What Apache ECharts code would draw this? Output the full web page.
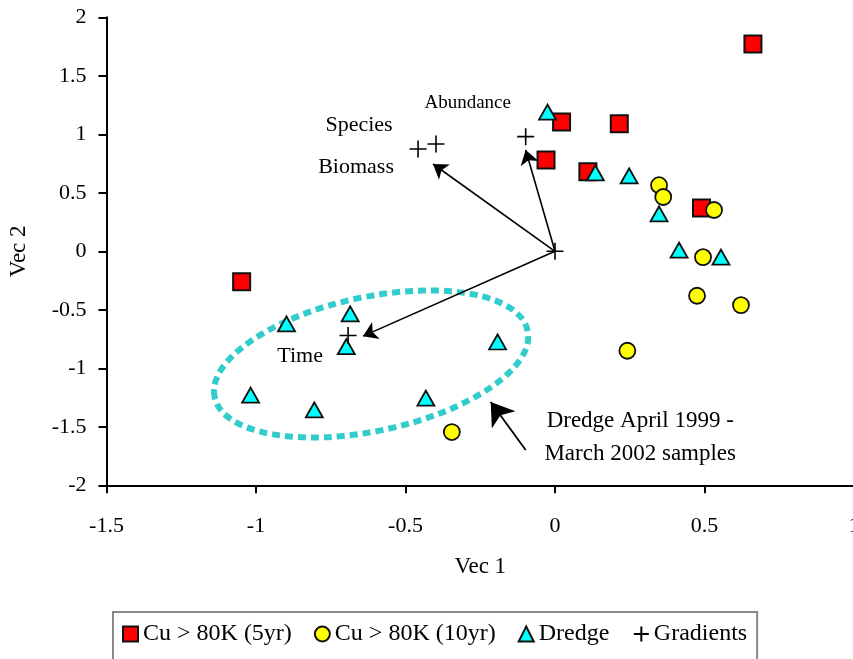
<!DOCTYPE html>
<html>
<head>
<meta charset="utf-8">
<script src="https://cdn.jsdelivr.net/npm/echarts@6/dist/echarts.min.js"></script>
<style>
html, body { margin: 0; padding: 0; background: #fff; }
#chart { width: 853px; height: 659px; }
</style>
</head>
<body>
<div id="chart"></div>
<script>
// values
const cu5yr = [[0.662, 1.772], [0.022, 1.105], [0.215, 1.09], [-0.03, 0.78], [0.11, 0.68], [0.49, 0.37], [-1.048, -0.26]];
const cu10yr = [[0.348, 0.565], [0.362, 0.464], [0.532, 0.353], [0.495, -0.05], [0.475, -0.38], [0.622, -0.46], [0.242, -0.85], [-0.345, -1.545]];
const dredge = [[-0.025, 1.19], [0.135, 0.67], [0.248, 0.645], [0.348, 0.32], [0.415, 0.01], [0.555, -0.05],
  [-0.898, -0.62], [-0.685, -0.535], [-0.698, -0.815], [-0.192, -0.775], [-1.018, -1.23], [-0.805, -1.355], [-0.432, -1.255]];
const gradientNames = ['', 'Abundance', 'Species', 'Biomass', 'Time'];
const gradientPoints = [[0, 0], [-0.098, 0.98], [-0.398, 0.917], [-0.458, 0.874], [-0.692, -0.72]];
const arrowTips = [[-0.098, 0.865], [-0.408, 0.746], [-0.642, -0.725]];
const noteLines = ['Dredge April 1999 -', 'March 2002 samples'];
const noteAt = [0.285, -1.587];
const noteArrow = [[-0.098, -1.698], [-0.215, -1.288]];
const ellipseAt = [-0.615, -0.963];

const FONT = 'Liberation Serif';
const labelOffsets = {
  'Abundance': { offset: [-58, -34], fontSize: 19 },
  'Species': { offset: [-77, -19], fontSize: 22 },
  'Biomass': { offset: [-62, 18], fontSize: 22 },
  'Time': { offset: [-48, 21], fontSize: 22 }
};

const chart = echarts.init(document.getElementById('chart'));

const axisCommon = {
  axisLine: { onZero: false, lineStyle: { color: '#000', width: 2 } },
  axisTick: { length: 8, lineStyle: { color: '#000', width: 2 } },
  axisLabel: { color: '#000', fontFamily: FONT, fontSize: 22 },
  splitLine: { show: false },
  nameTextStyle: { color: '#000', fontFamily: FONT, fontSize: 23 },
  nameLocation: 'middle'
};

const plus = 'path://M0 10H20M10 0V20';

chart.setOption({
  animation: false,
  grid: { left: 106.5, top: 17.3, right: -1, bottom: 173.7, outerBoundsMode: 'none' },
  xAxis: Object.assign({}, axisCommon, {
    type: 'value', min: -1.5, max: 1, interval: 0.5, name: 'Vec 1', nameGap: 70,
    axisLabel: Object.assign({}, axisCommon.axisLabel, { margin: 30 })
  }),
  yAxis: Object.assign({}, axisCommon, {
    type: 'value', min: -2, max: 2, interval: 0.5, name: 'Vec 2', nameGap: 76,
    axisLabel: Object.assign({}, axisCommon.axisLabel, { margin: 20 })
  }),
  legend: {
    data: ['Cu > 80K (5yr)', 'Cu > 80K (10yr)', 'Dredge', 'Gradients'],
    left: 113, top: 612,
    padding: [10, 10, 30, 9],
    borderColor: '#888', borderWidth: 2,
    itemWidth: 15, itemHeight: 15, itemGap: 22,
    textStyle: { color: '#000', fontFamily: FONT, fontSize: 24 }
  },
  series: [
    {
      name: 'Cu > 80K (5yr)', type: 'scatter', data: cu5yr, symbol: 'rect', symbolSize: 17,
      itemStyle: { color: '#ff0000', borderColor: '#111', borderWidth: 2, opacity: 1 }
    },
    {
      name: 'Cu > 80K (10yr)', type: 'scatter', data: cu10yr, symbol: 'circle', symbolSize: 16,
      itemStyle: { color: '#ffff00', borderColor: '#111', borderWidth: 1.8, opacity: 1 }
    },
    {
      name: 'Dredge', type: 'scatter', data: dredge, symbol: 'triangle', symbolSize: [17, 15],
      itemStyle: { color: '#00ffff', borderColor: '#111', borderWidth: 1.8, opacity: 1 }
    },
    {
      name: 'Gradients', type: 'scatter', symbol: plus, symbolSize: 17,
      itemStyle: { color: 'none', borderColor: '#000', borderWidth: 1.6, opacity: 1 },
      data: gradientPoints.map((p, i) => {
        const n = gradientNames[i];
        const lab = labelOffsets[n];
        return {
          value: p, name: n,
          label: lab ? {
            show: true, formatter: n, position: 'inside', offset: lab.offset,
            fontFamily: FONT, fontSize: lab.fontSize, color: '#000'
          } : { show: false }
        };
      })
    },
    {
      type: 'lines', coordinateSystem: 'cartesian2d', silent: true,
      symbol: ['none', 'arrow'], symbolSize: 14,
      lineStyle: { color: '#000', width: 1.6, opacity: 1 },
      data: arrowTips.map(t => ({ coords: [gradientPoints[0], t] }))
    },
    {
      type: 'lines', coordinateSystem: 'cartesian2d', silent: true,
      symbol: ['none', 'arrow'], symbolSize: 22,
      lineStyle: { color: '#000', width: 1.8, opacity: 1 },
      data: [{ coords: noteArrow }]
    }
  ]
});

const c = chart.convertToPixel({ gridIndex: 0 }, ellipseAt);
const t = chart.convertToPixel({ gridIndex: 0 }, noteAt);
chart.setOption({
  graphic: [
    {
      type: 'ellipse', z: 1, silent: true,
      x: c[0], y: c[1], rotation: 12 * Math.PI / 180,
      shape: { cx: 0, cy: 0, rx: 160, ry: 67 },
      style: { fill: 'none', stroke: '#33cccc', lineWidth: 6, lineDash: [8, 5] }
    },
    {
      type: 'text', silent: true, x: t[0], y: t[1],
      style: {
        text: noteLines.join('\n'), fontFamily: FONT, fontSize: 23, lineHeight: 33,
        fill: '#000', align: 'center', verticalAlign: 'middle'
      }
    }
  ]
});
</script>
</body>
</html>
